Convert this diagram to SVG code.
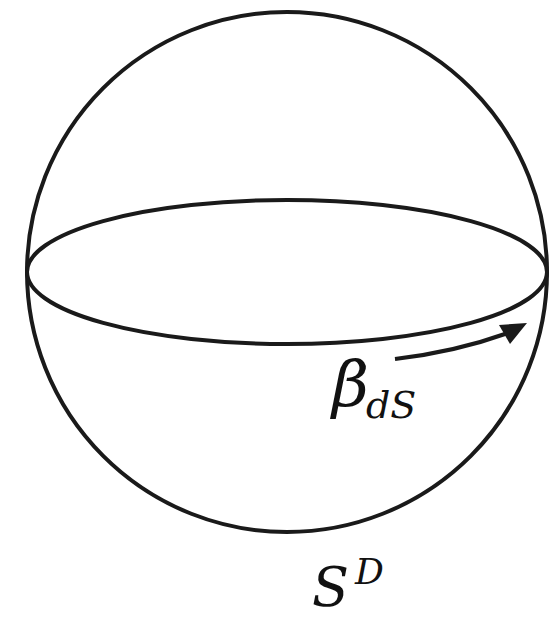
<svg xmlns="http://www.w3.org/2000/svg" width="560" height="623" viewBox="0 0 560 623">
<defs>
<style>
.ln{fill:none;stroke:#1a1a1a;stroke-width:4}
.t{font-family:"DejaVu Serif","Liberation Serif",serif;font-style:italic;fill:#111}
</style>
</defs>
<g id="sphere">
<circle class="ln" cx="287" cy="272" r="260"/>
</g>
<g id="equator">
<ellipse class="ln" cx="287" cy="272" rx="260" ry="72"/>
</g>
<g id="connectors">
<path class="ln" d="M395,359 Q455,352 508,333" stroke-width="4.5"/>
<polygon points="527,323 499,325 510,344" fill="#1a1a1a"/>
</g>
<g id="label-beta">
<text class="t" x="332" y="406" font-size="64">β<tspan font-size="38" dy="12" dx="-3">dS</tspan></text>
</g>
<g id="label-S">
<text class="t" x="312" y="606" font-size="54">S<tspan font-size="36" dy="-22" dx="6">D</tspan></text>
</g>
</svg>
